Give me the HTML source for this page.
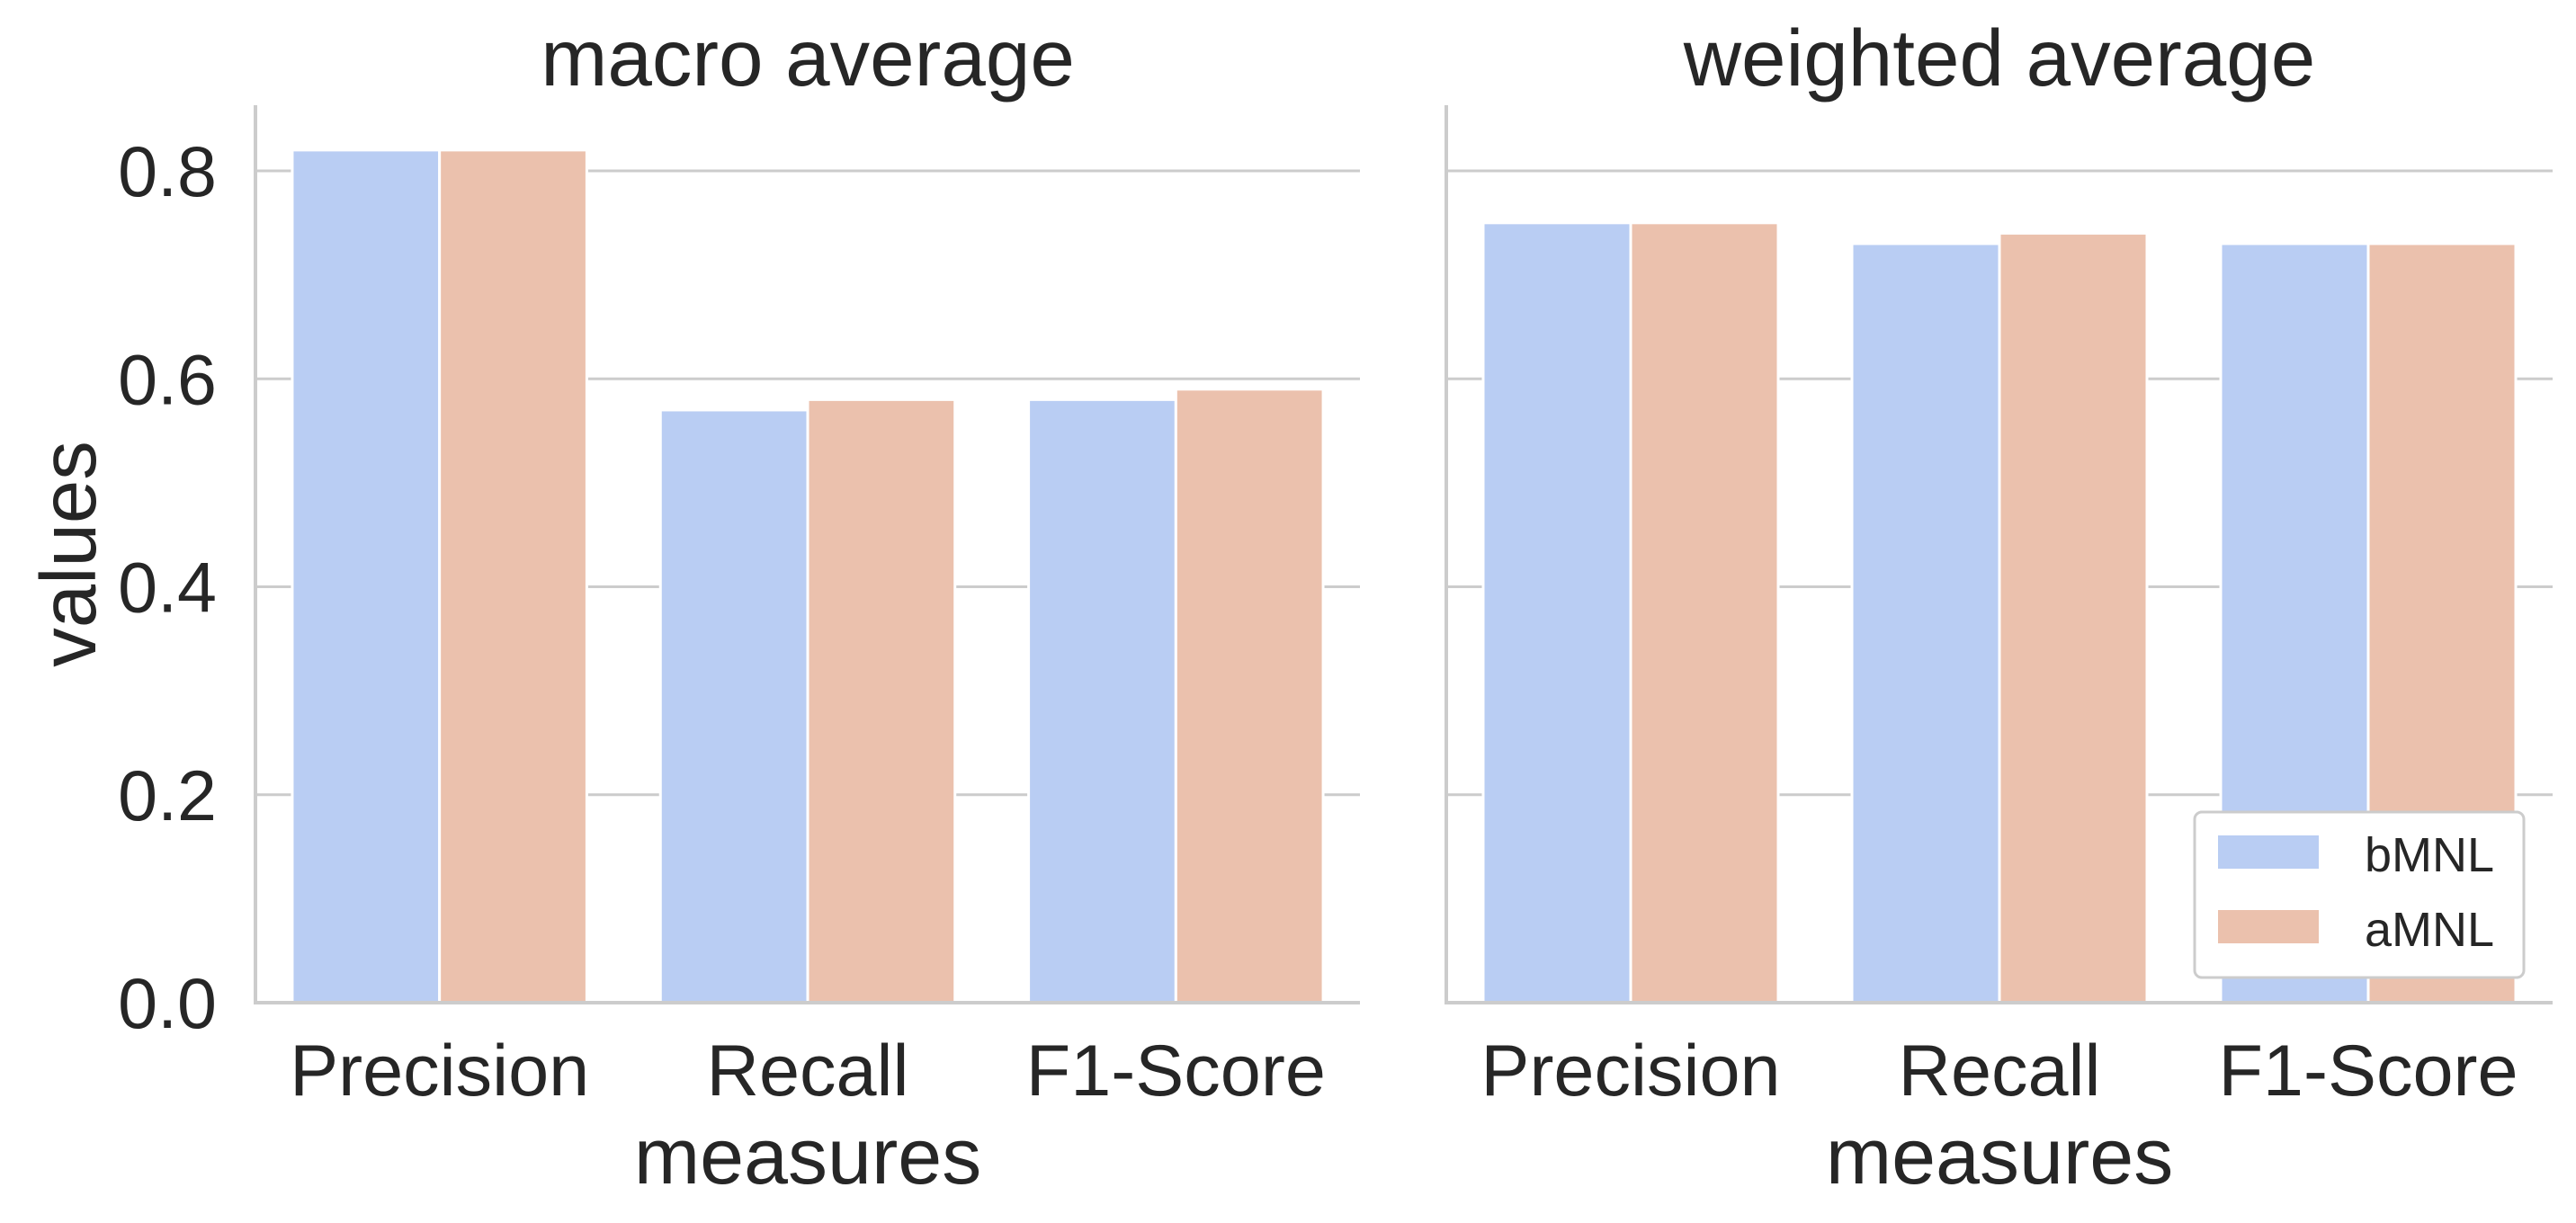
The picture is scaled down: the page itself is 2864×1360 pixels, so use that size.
<!DOCTYPE html>
<html><head><meta charset="utf-8"><style>
html,body{margin:0;padding:0;background:#fff;}
svg{display:block;font-family:"Liberation Sans",Arial,sans-serif;}
</style></head><body>
<svg id="chart" width="2864" height="1360" viewBox="0 0 2864 1360"></svg>
<script>
const categories = ["Precision", "Recall", "F1-Score"];
const seriesNames = ["bMNL", "aMNL"];
const macroB = [0.82, 0.57, 0.58];
const macroA = [0.82, 0.58, 0.59];
const weightedB = [0.75, 0.73, 0.73];
const weightedA = [0.75, 0.74, 0.73];
const yTicks = [0.0, 0.2, 0.4, 0.6, 0.8];
const yTickLabels = ["0.0", "0.2", "0.4", "0.6", "0.8"];
const panelTitles = ["macro average", "weighted average"];

const NS = "http://www.w3.org/2000/svg";
const svg = document.getElementById("chart");
const colors = ["#b9cdf3", "#ebc1ad"];
function mk(tag, attrs, parent) {
  const e = document.createElementNS(NS, tag);
  for (const k in attrs) e.setAttribute(k, attrs[k]);
  (parent || svg).appendChild(e);
  return e;
}
const y0 = 1115, yTop = 117;
const pxPerUnit = (1115 - 190) / 0.8;
function yScale(v) { return y0 - v * pxPerUnit; }

const panels = [
  { x0: 284, x1: 1512, data: [macroB, macroA], showY: true },
  { x0: 1608, x1: 2838, data: [weightedB, weightedA], showY: false }
];

panels.forEach((p, pi) => {
  const g = mk("g", {});
  
  
  const catW = (p.x1 - p.x0) / categories.length;
  function xScale(i) { return p.x0 + catW * (i + 0.5); }
  yTicks.forEach((t, ti) => {
    if (t > 0) {
      const gl = mk("line", { x1: p.x0, x2: p.x1, y1: yScale(t), y2: yScale(t), stroke: "#cccccc", "stroke-width": 3 }, g);
      
      
    }
    if (p.showY) {
      const tl = mk("text", { x: 241, y: yScale(t) + 28, "text-anchor": "end", "font-size": 79, fill: "#262626" }, g);
      tl.textContent = yTickLabels[ti];
      
      
    }
  });
  const bw = catW * 0.4;
  p.data.forEach((series, si) => {
    series.forEach((v, ci) => {
      const x = xScale(ci) - catW * 0.4 + si * bw;
      const r = mk("rect", { x: x, y: yScale(v), width: bw, height: y0 - yScale(v), fill: colors[si], stroke: "#ffffff", "stroke-width": 3 }, g);
      
      
    });
  });
  const ls = mk("line", { x1: p.x0, x2: p.x0, y1: yTop, y2: y0 + 2, stroke: "#cccccc", "stroke-width": 4 }, g);
  
  
  const bs = mk("line", { x1: p.x0 - 2, x2: p.x1, y1: y0, y2: y0, stroke: "#cccccc", "stroke-width": 4 }, g);
  
  
  categories.forEach((c, ci) => {
    const t = mk("text", { x: xScale(ci), y: 1218, "text-anchor": "middle", "font-size": 81, fill: "#262626" }, g);
    t.textContent = c;
    
    
  });
  const xl = mk("text", { x: (p.x0 + p.x1) / 2, y: 1316, "text-anchor": "middle", "font-size": 88, fill: "#262626" }, g);
  xl.textContent = "measures";
  
  
  const tt = mk("text", { x: (p.x0 + p.x1) / 2, y: 95, "text-anchor": "middle", "font-size": 89, fill: "#262626" }, g);
  tt.textContent = panelTitles[pi];
  
  
});

const yl = mk("text", { x: 0, y: 0, "text-anchor": "middle", "font-size": 87, fill: "#262626", transform: "translate(106,616) rotate(-90)" });
yl.textContent = "values";



const lg = mk("g", {});


const lb = mk("rect", { x: 2440, y: 903, width: 366, height: 184, rx: 8, fill: "#ffffff", stroke: "#cccccc", "stroke-width": 3 }, lg);


seriesNames.forEach((n, i) => {
  const sw = mk("rect", { x: 2466, y: 929 + i * 83, width: 112, height: 37, fill: colors[i] }, lg);
  
  
  const lt = mk("text", { x: 2629, y: 969 + i * 83, "font-size": 54, fill: "#262626" }, lg);
  lt.textContent = n;
  
  
});
</script>
</body></html>
